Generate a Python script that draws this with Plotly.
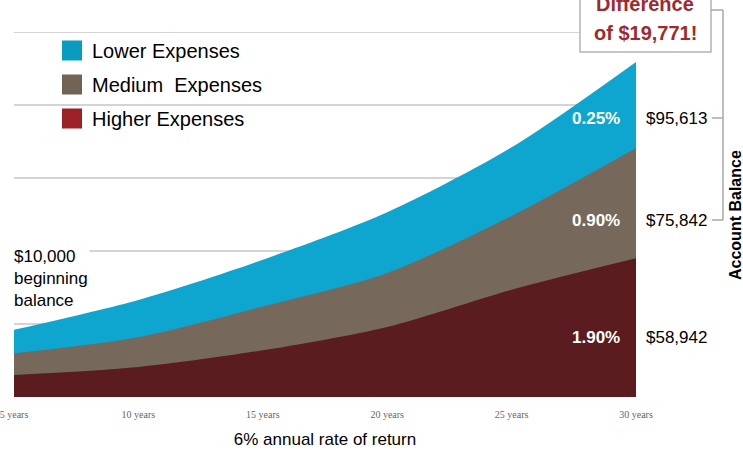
import plotly.graph_objects as go

# ---- data (account balance in $ thousands, illustrative scale) ----
years = [5, 10, 15, 20, 25, 30]
year_labels = ["5 years", "10 years", "15 years", "20 years", "25 years", "30 years"]
lower = [18.4, 26.6, 37.6, 50.6, 68.4, 91.8]
medium = [12.0, 16.4, 24.8, 34.0, 49.6, 68.2]
higher = [6.0, 8.2, 12.8, 19.2, 29.4, 38.0]

series_names = ["Lower Expenses", "Medium  Expenses", "Higher Expenses"]
expense_ratios = ["0.25%", "0.90%", "1.90%"]
end_balances = ["$95,613", "$75,842", "$58,942"]
difference = "$19,771"

area_colors = ["#0ea6cf", "#76695c", "#5a1c1e"]
legend_colors = ["#0a9cc0", "#716454", "#9c2126"]

W, H = 743, 450
L, R, T, B = 14, 107, 32, 53
PW, PH = W - L - R, H - T - B


def px(xp):
    return (xp - L) / PW


def py(yp):
    return (H - B - yp) / PH


fig = go.Figure()
for vals, col in zip([lower, medium, higher], area_colors):
    fig.add_trace(go.Scatter(
        x=years, y=vals, mode="lines", fill="tozeroy",
        line=dict(width=0, color=col, shape="spline", smoothing=0.8),
        fillcolor=col, showlegend=False, hoverinfo="skip"))

for i, (name, col) in enumerate(zip(series_names, legend_colors)):
    fig.add_trace(go.Scatter(
        x=[None], y=[None], mode="markers", name=name, legendgroup=str(i),
        marker=dict(symbol="square", size=16, color=col, line=dict(width=4, color=col))))

annotations = []
label_y = [118, 220, 337]
for pct, bal, yy in zip(expense_ratios, end_balances, label_y):
    annotations.append(dict(x=px(622), y=py(yy), xref="paper", yref="paper",
                            text=f"<b>{pct}</b>", showarrow=False,
                            xanchor="right", yanchor="middle",
                            font=dict(size=17, color="white", family="Liberation Sans")))
    annotations.append(dict(x=px(676), y=py(yy), xref="paper", yref="paper",
                            text=bal, showarrow=False, xanchor="center", yanchor="middle",
                            font=dict(size=17, color="black", family="Liberation Sans")))

annotations.append(dict(x=px(12), y=py(278), xref="paper", yref="paper",
                        text="$10,000<br>beginning<br>balance", showarrow=False,
                        xanchor="left", yanchor="middle", align="left", bgcolor="white",
                        font=dict(size=17, color="black", family="Liberation Sans")))

annotations.append(dict(x=px(735), y=py(215), xref="paper", yref="paper",
                        text="<b>Account Balance</b>", showarrow=False, textangle=-90,
                        xanchor="center", yanchor="middle",
                        font=dict(size=16, color="black", family="Liberation Sans")))

for txt, yy in [("Difference", 4), (f"of {difference}!", 33)]:
    annotations.append(dict(x=px(645.5), y=py(yy), xref="paper", yref="paper",
                            text=f"<b>{txt}</b>", showarrow=False,
                            xanchor="center", yanchor="middle",
                            font=dict(size=20, color="#9e2a2f", family="Liberation Sans")))

line_style = dict(color="#a8a8a8", width=1.5)
shapes = [
    # top gridline (plotly drops the gridline that sits on the plot edge)
    dict(type="line", xref="paper", yref="y", x0=0, x1=1, y0=100, y1=100,
         line=dict(color="#d4d4d4", width=2), layer="below"),
    dict(type="rect", xref="paper", yref="paper", x0=px(580), x1=px(711), y0=py(52), y1=py(-10),
         fillcolor="white", line=dict(color="#b4b4b4", width=1.5), layer="above"),
    dict(type="line", xref="paper", yref="paper", x0=px(711), x1=px(723), y0=py(10), y1=py(10), line=line_style),
    dict(type="line", xref="paper", yref="paper", x0=px(723), x1=px(723), y0=py(10), y1=py(220), line=line_style),
    dict(type="line", xref="paper", yref="paper", x0=px(712), x1=px(723), y0=py(118), y1=py(118), line=line_style),
    dict(type="line", xref="paper", yref="paper", x0=px(712), x1=px(723), y0=py(220), y1=py(220), line=line_style),
]

fig.update_layout(
    width=W, height=H, margin=dict(l=L, r=R, t=T, b=B, autoexpand=False),
    paper_bgcolor="white", plot_bgcolor="white",
    font=dict(family="Liberation Sans", color="black"),
    showlegend=True,
    legend=dict(x=px(52), y=py(31), xanchor="left", yanchor="top",
                font=dict(size=20, color="black", family="Liberation Sans"),
                bgcolor="rgba(0,0,0,0)", traceorder="grouped", tracegroupgap=5),
    annotations=annotations, shapes=shapes,
    xaxis=dict(range=[5, 30], tickvals=years, ticktext=year_labels, showgrid=False,
               zeroline=False, showline=False, ticklabeloverflow="allow",
               ticks="", ticklabelstandoff=10, automargin=False,
               tickfont=dict(size=10, color="#666666", family="Liberation Serif"),
               title=dict(text="6% annual rate of return", standoff=14,
                          font=dict(size=17, color="black", family="Liberation Sans"))),
    yaxis=dict(range=[0, 100], dtick=20, showgrid=True, gridcolor="#d4d4d4", gridwidth=2,
               zeroline=False, showticklabels=False, ticks="", automargin=False),
)

fig.write_html("out.html", config={"displayModeBar": False},
               post_script="document.body.style.margin='0';document.body.style.overflow='hidden';")
